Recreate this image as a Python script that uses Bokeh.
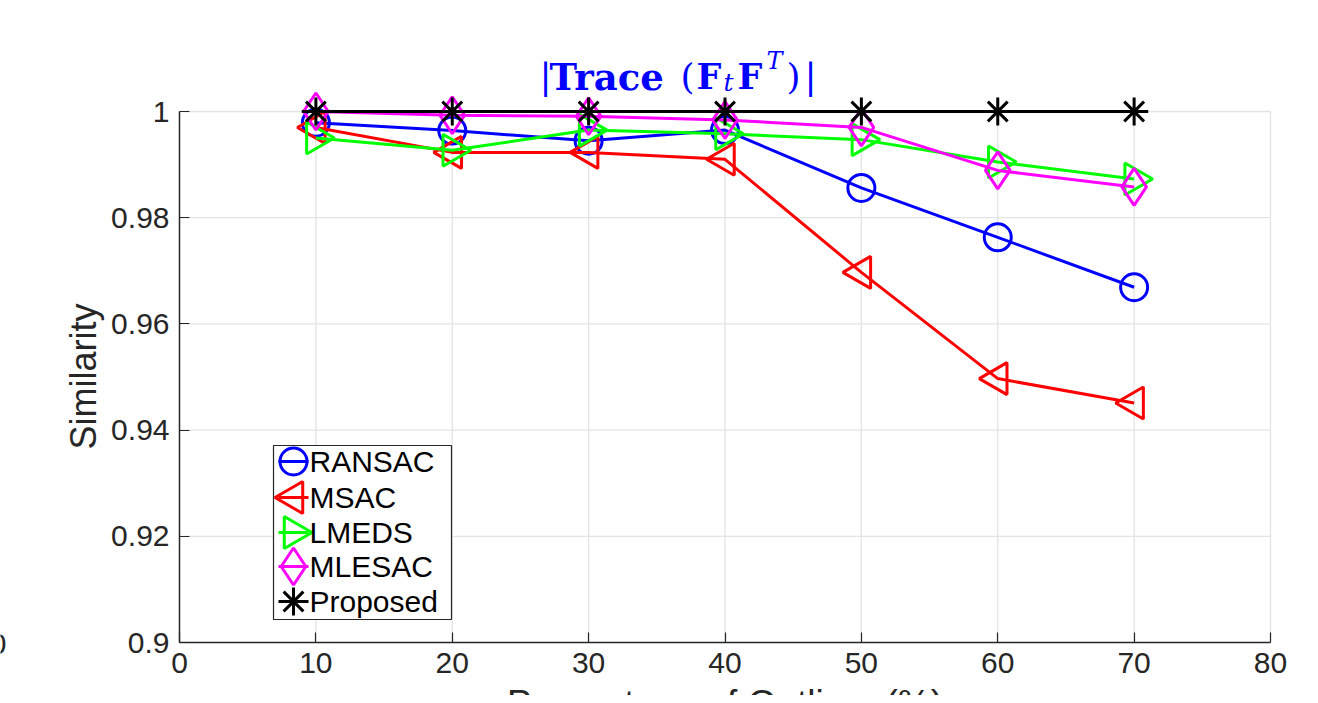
import numpy as np
from bokeh.plotting import figure
from bokeh.models import Label, FixedTicker, Range1d
from bokeh.core.properties import value
from bokeh.embed import file_html
from bokeh.resources import INLINE

# ---------------- data ----------------
outliers = [10, 20, 30, 40, 50, 60, 70]
ransac = [0.9979, 0.9964, 0.9945, 0.9965, 0.9856, 0.9763, 0.9669]
msac = [0.9970, 0.9923, 0.9923, 0.9910, 0.9697, 0.9497, 0.9451]
lmeds = [0.9950, 0.9927, 0.9965, 0.9958, 0.9947, 0.9905, 0.9873]
mlesac = [1.0000, 0.9993, 0.9991, 0.9984, 0.9970, 0.9889, 0.9858]
proposed = [1.0, 1.0, 1.0, 1.0, 1.0, 1.0, 1.0]
series_names = ["RANSAC", "MSAC", "LMEDS", "MLESAC", "Proposed"]
x_ticks = [0, 10, 20, 30, 40, 50, 60, 70, 80]
y_ticks = [0.9, 0.92, 0.94, 0.96, 0.98, 1.0]
y_tick_labels = {0.9: "0.9", 0.92: "0.92", 0.94: "0.94", 0.96: "0.96", 0.98: "0.98", 1.0: "1"}

FONT = "Liberation Sans"
DARK = "#262626"
GRID = "#e3e3e3"

X0, X1 = 0, 80
Y0, Y1 = 0.9, 1.0
W, H = 1310, 695
SX = 80 / 1091      # data units per pixel (x)
SY = 0.1 / 531      # data units per pixel (y)

# the whole canvas is the plotting frame; axes sit at fixed locations
p = figure(width=W, height=H, output_backend="svg", toolbar_location=None,
           x_range=Range1d((0 - 179) * SX, (W - 179) * SX),
           y_range=Range1d(1.0 - (H - 111) * SY, 1.0 + 111 * SY),
           min_border=0, min_border_left=0, min_border_right=0,
           min_border_top=0, min_border_bottom=0)
p.background_fill_color = "white"
p.border_fill_color = "white"
p.outline_line_color = None
p.xgrid.visible = False
p.ygrid.visible = False

def dx(px):
    return (px - 179) * SX

def dy(py):
    return 1.0 - (py - 111) * SY

for ax in (p.xaxis[0], p.yaxis[0]):
    ax.axis_line_color = DARK
    ax.axis_line_width = 1.5
    ax.major_tick_line_color = DARK
    ax.major_tick_line_width = 1.2
    ax.major_tick_in = 10
    ax.major_tick_out = 0
    ax.minor_tick_line_color = None
    ax.major_label_text_font = FONT
    ax.major_label_text_font_size = "30px"
    ax.major_label_text_color = DARK

p.xaxis[0].fixed_location = Y0
p.yaxis[0].fixed_location = X0
p.xaxis[0].bounds = (X0, X1)
p.yaxis[0].bounds = (Y0, Y1)
p.xaxis[0].ticker = FixedTicker(ticks=x_ticks)
p.yaxis[0].ticker = FixedTicker(ticks=y_ticks)
p.yaxis[0].major_label_overrides = y_tick_labels
p.xaxis[0].major_label_standoff = 10
p.yaxis[0].major_label_standoff = 10

# grid (limited to the axes box) + light box edges
gx = [t for t in x_ticks if t != X0]
p.segment(x0=gx, y0=[Y0] * len(gx), x1=gx, y1=[Y1] * len(gx), line_color=GRID, line_width=1.3)
gy = [t for t in y_ticks if t != Y0]
p.segment(x0=[X0] * len(gy), y0=gy, x1=[X1] * len(gy), y1=gy, line_color=GRID, line_width=1.3)

LW = 3
specs = [
    (ransac, "blue", "circle", 0, 27),
    (msac, "red", "triangle", np.pi / 2, 32),
    (lmeds, "#00ff00", "triangle", -np.pi / 2, 32),
    (mlesac, "magenta", "diamond", 0, 37),
]
for vals, col, mk, ang, sz in specs:
    p.line(outliers, vals, line_color=col, line_width=LW)
    p.scatter(outliers, vals, marker=mk, angle=ang, size=sz, fill_color=None,
              line_color=col, line_width=LW)
p.line(outliers, proposed, line_color="black", line_width=LW)
p.scatter(outliers, proposed, marker="asterisk", size=28, line_color="black", line_width=LW)
p.scatter(outliers, proposed, marker="dash", size=28, line_color="black", line_width=LW)

# ---------------- legend (drawn by hand to match MATLAB look) ----------------
p.quad(left=dx(273), right=dx(451), top=dy(445), bottom=dy(619),
       fill_color="white", line_color=DARK, line_width=1.2)
rows = [461, 497, 532, 566, 601]
leg_specs = [
    ("blue", "circle", 0, 27),
    ("red", "triangle", np.pi / 2, 32),
    ("#00ff00", "triangle", -np.pi / 2, 32),
    ("magenta", "diamond", 0, 37),
]
for (col, mk, ang, sz), r in zip(leg_specs, rows[:4]):
    p.line([dx(278), dx(308)], [dy(r), dy(r)], line_color=col, line_width=LW)
    p.scatter([dx(293)], [dy(r)], marker=mk, angle=ang, size=sz, fill_color=None,
              line_color=col, line_width=LW)
p.line([dx(278), dx(308)], [dy(rows[4]), dy(rows[4])], line_color="black", line_width=LW)
p.scatter([dx(293)], [dy(rows[4])], marker="asterisk", size=28, line_color="black", line_width=LW)
p.scatter([dx(293)], [dy(rows[4])], marker="dash", size=28, line_color="black", line_width=LW)
p.text(x=[dx(309)] * 5, y=[dy(r) for r in rows], text=series_names,
       text_font=value(FONT), text_font_size="30px", text_color="black",
       text_align="left", text_baseline="middle")

# ---------------- title |Trace(F_t F^T)| ----------------
TF = "DejaVu Serif"
base = dy(76)
title_parts = [
    ("|", 539, base, "normal", "36px"),
    ("Trace", 549, base, "bold", "37px"),
    ("(", 680, base, "normal", "36px"),
    ("F", 696, base, "bold", "35px"),
    ("t", 723, dy(82), "italic", "25px"),
    ("F", 737, base, "bold", "35px"),
    ("T", 766, dy(60), "italic", "24px"),
    (")", 786, base, "normal", "36px"),
    ("|", 804, base, "normal", "36px"),
]
for txt, px, yy, style, fs in title_parts:
    p.add_layout(Label(x=dx(px), y=yy, text=txt, text_font=TF, text_font_style=style,
                       text_font_size=fs, text_color="#0000ff", text_align="left",
                       text_baseline="alphabetic"))

# ---------------- axis labels ----------------
p.add_layout(Label(x=dx(83), y=dy(376), text="Similarity", angle=np.pi / 2,
                   text_font=FONT, text_font_size="36px", text_color=DARK,
                   text_align="center", text_baseline="middle"))
p.add_layout(Label(x=40, y=dy(682), text="Percentage of Outliers (%)",
                   text_font=FONT, text_font_size="37px", text_color=DARK,
                   text_align="center", text_baseline="top"))
# fragment of a neighbouring panel's tick label at the far left edge
p.add_layout(Label(x=dx(6), y=dy(643), text="0", text_font=FONT, text_font_size="30px",
                   text_color=DARK, text_align="right", text_baseline="middle"))

open("out.html", "w").write(file_html(p, INLINE))
